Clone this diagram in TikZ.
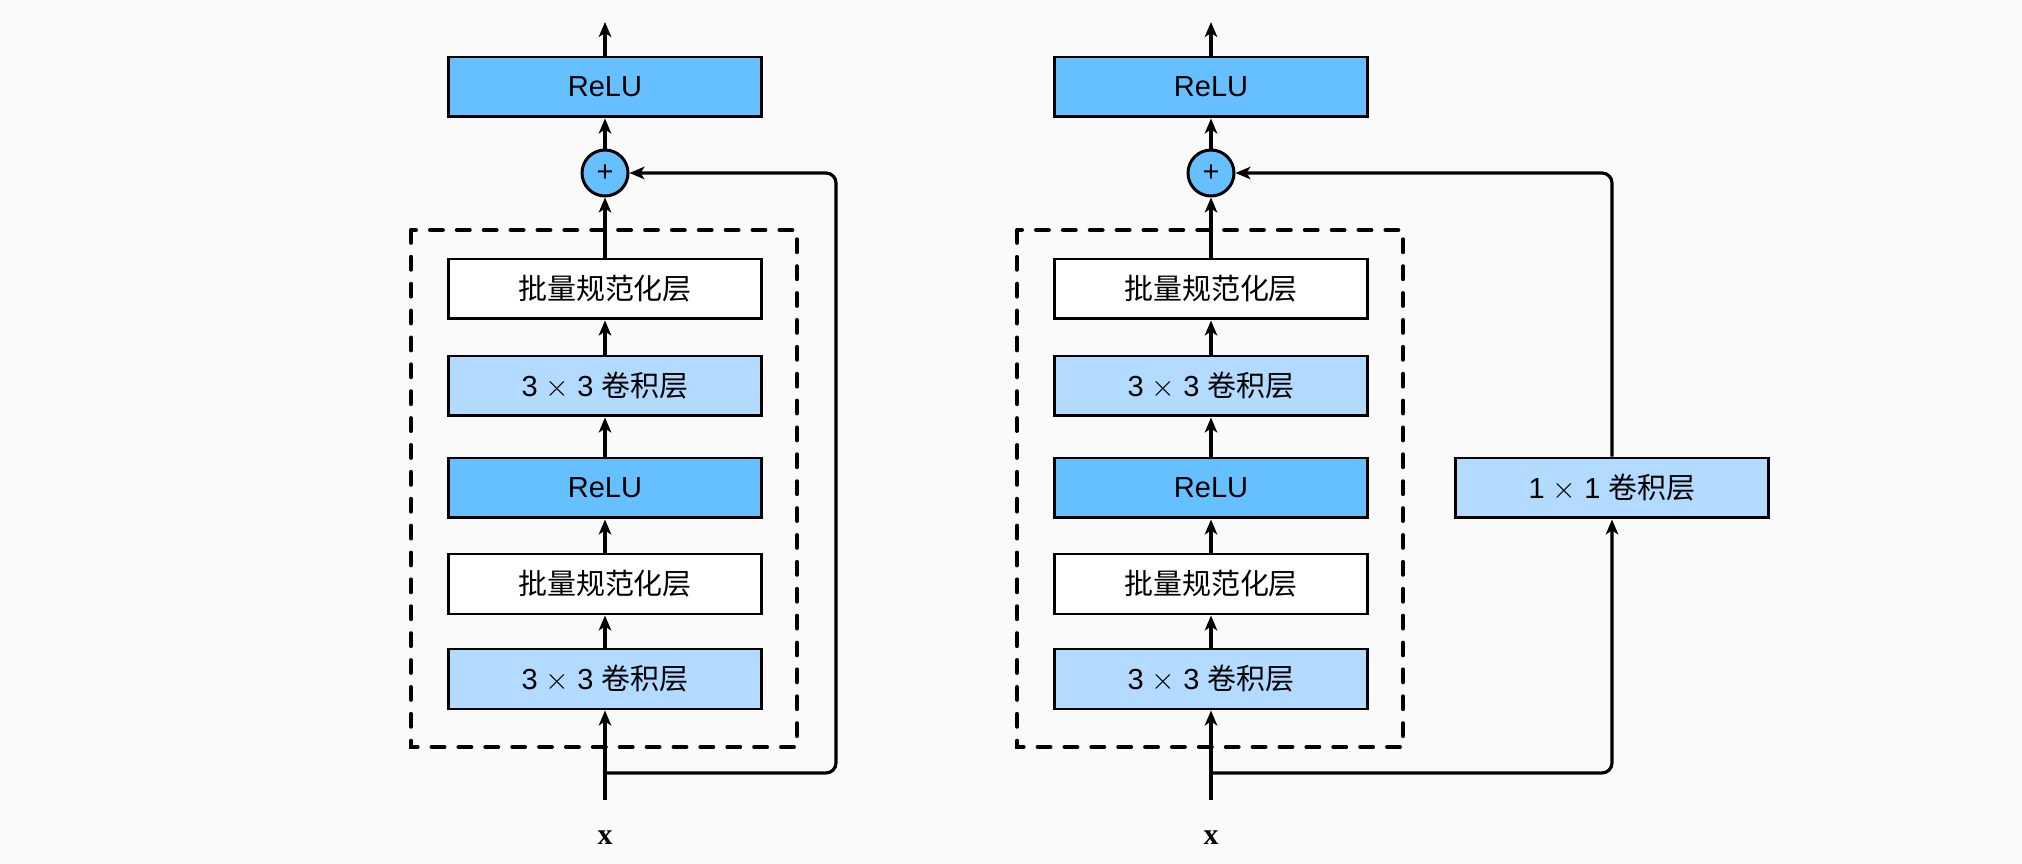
\documentclass[tikz,border=0pt]{standalone}
\usepackage{fontspec}
\usepackage{tikz}
\usetikzlibrary{positioning, arrows.meta}
\newfontfamily\arialfont{Liberation Sans}
\newfontfamily\timesfont{Liberation Serif}
\newfontfamily\cjkfont{Noto Sans CJK SC}
\definecolor{relu}{HTML}{66BFFF}
\definecolor{conv}{HTML}{B3DAFF}
\definecolor{paper}{HTML}{FAFAFA}

\begin{document}
\begin{tikzpicture}[
  x=0.02cm, y=-0.02cm,
  layer/.style={draw=black, line width=1.7pt, minimum width=6.26cm,
                minimum height=1.2cm, inner sep=0pt,
                font=\arialfont\fontsize{16.5}{20}\selectfont},
  actbox/.style={layer, fill=relu},
  convbox/.style={layer, fill=conv},
  normbox/.style={layer, fill=white},
  addop/.style={circle, draw=black, line width=1.7pt, fill=relu,
                minimum size=0.92cm, inner sep=0pt,
                font=\arialfont\fontsize{16.5}{20}\selectfont},
  arr/.style={-{Stealth[length=0.3cm, width=0.25cm, inset=0.08cm]},
              line width=1.8pt},
  block/.style={draw=black, line width=2.3pt, line cap=round,
                dash pattern=on 7.3pt off 8pt}
]
  \useasboundingbox[fill=paper] (0,0) rectangle (2022,864);

  % both residual blocks, left without and right with the 1x1 conv
  \foreach \c/\dx in {l/0, r/606} {
    \node[actbox] (relu2-\c) at (605+\dx,87) {ReLU};
    \node[addop] (add-\c) at (605+\dx,173) {+};
    \node[normbox] (bn2-\c) at (605+\dx,289) {\cjkfont 批量规范化层};
    \node[convbox] (conv2-\c) at (605+\dx,386) {3 $\times$ 3 {\cjkfont 卷积层}};
    \node[actbox] (relu1-\c) at (605+\dx,488) {ReLU};
    \node[normbox] (bn1-\c) at (605+\dx,584) {\cjkfont 批量规范化层};
    \node[convbox] (conv1-\c) at (605+\dx,679) {3 $\times$ 3 {\cjkfont 卷积层}};
    \node[font=\timesfont\bfseries\fontsize{17}{20}\selectfont] (x-\c) at (605+\dx,838) {x};
    \coordinate (in-\c) at (605+\dx,800);
    \coordinate (br-\c) at (605+\dx,773);
    \coordinate (out-\c) at (605+\dx,22);

    \draw[block] (411+\dx,230) rectangle (797+\dx,747);

    \draw[arr] (in-\c) -- (conv1-\c);
    \draw[arr] (conv1-\c) -- (bn1-\c);
    \draw[arr] (bn1-\c) -- (relu1-\c);
    \draw[arr] (relu1-\c) -- (conv2-\c);
    \draw[arr] (conv2-\c) -- (bn2-\c);
    \draw[arr] (bn2-\c) -- (add-\c);
    \draw[arr] (add-\c) -- (relu2-\c);
    \draw[arr] (relu2-\c) -- (out-\c);
  }

  % identity shortcut
  \coordinate (skip-l) at (836,773);
  \draw[arr, rounded corners=0.2cm] (br-l) -- (skip-l) |- (add-l);

  % 1x1 conv shortcut
  \node[convbox] (proj) at (1612,488) {1 $\times$ 1 {\cjkfont 卷积层}};
  \draw[arr, rounded corners=0.2cm] (br-r) -| (proj);
  \draw[arr, rounded corners=0.2cm] (proj) |- (add-r);

\end{tikzpicture}
\end{document}
